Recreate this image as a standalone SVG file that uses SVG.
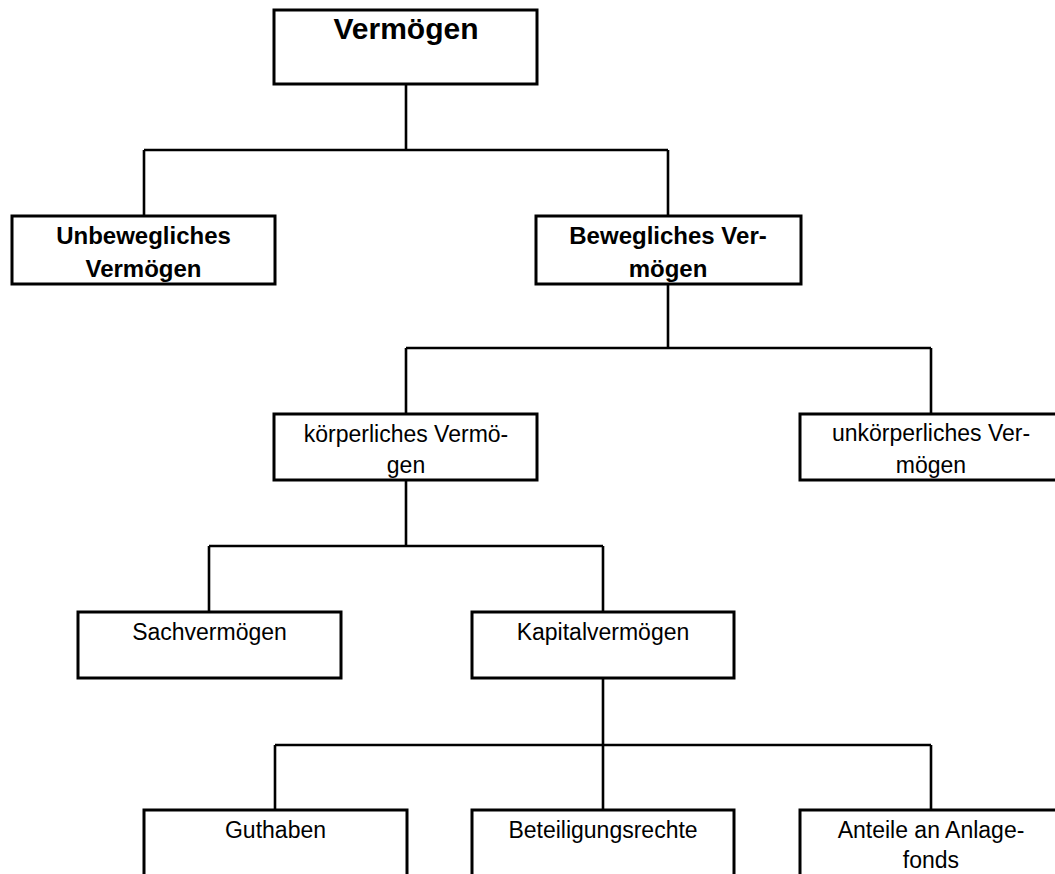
<svg xmlns="http://www.w3.org/2000/svg" width="1055" height="874" viewBox="0 0 1055 874">
<style>
.box{fill:#fff;stroke:#000;stroke-width:3}
.ln{fill:none;stroke:#000;stroke-width:2.6}
text{font-family:"Liberation Sans",Arial,sans-serif;fill:#000;text-anchor:middle}
.t1{font-size:30px;font-weight:bold}
.t2{font-size:24px;font-weight:bold}
.t3{font-size:23px}
</style>
<rect width="1055" height="874" fill="#fff"/>
<g id="connectors">
<path class="ln" d="M406 84V150M144 150H668M144 150V216M668 150V216"/>
<path class="ln" d="M668 284V348M406 348H931M406 348V414M931 348V414"/>
<path class="ln" d="M406 480V546M209 546H603M209 546V612M603 546V612"/>
<path class="ln" d="M603 678V810M275 745H931M275 745V810M931 745V810"/>
</g>
<g id="n-vermoegen"><rect class="box" x="274" y="10" width="263" height="74"/><text class="t1" x="406" y="39">Vermögen</text></g>
<g id="n-unbeweglich"><rect class="box" x="12" y="216" width="263" height="68"/><text class="t2" x="143.5" y="244">Unbewegliches</text><text class="t2" x="143.5" y="277">Vermögen</text></g>
<g id="n-beweglich"><rect class="box" x="536" y="216" width="265" height="68"/><text class="t2" x="668" y="244">Bewegliches Ver-</text><text class="t2" x="668" y="277">mögen</text></g>
<g id="n-koerperlich"><rect class="box" x="274" y="414" width="263" height="66"/><text class="t3" x="406" y="442">körperliches Vermö-</text><text class="t3" x="406" y="473">gen</text></g>
<g id="n-unkoerperlich"><rect class="box" x="800" y="414" width="263" height="66"/><text class="t3" x="931" y="441">unkörperliches Ver-</text><text class="t3" x="931" y="473">mögen</text></g>
<g id="n-sach"><rect class="box" x="78" y="612" width="263" height="66"/><text class="t3" x="209.5" y="640">Sachvermögen</text></g>
<g id="n-kapital"><rect class="box" x="472" y="612" width="262" height="66"/><text class="t3" x="603" y="640">Kapitalvermögen</text></g>
<g id="n-guthaben"><rect class="box" x="144" y="810" width="263" height="100"/><text class="t3" x="275.5" y="838">Guthaben</text></g>
<g id="n-beteiligung"><rect class="box" x="472" y="810" width="262" height="100"/><text class="t3" x="603" y="838">Beteiligungsrechte</text></g>
<g id="n-anteile"><rect class="box" x="800" y="810" width="263" height="100"/><text class="t3" x="931" y="838">Anteile an Anlage-</text><text class="t3" x="931" y="868">fonds</text></g>
</svg>
